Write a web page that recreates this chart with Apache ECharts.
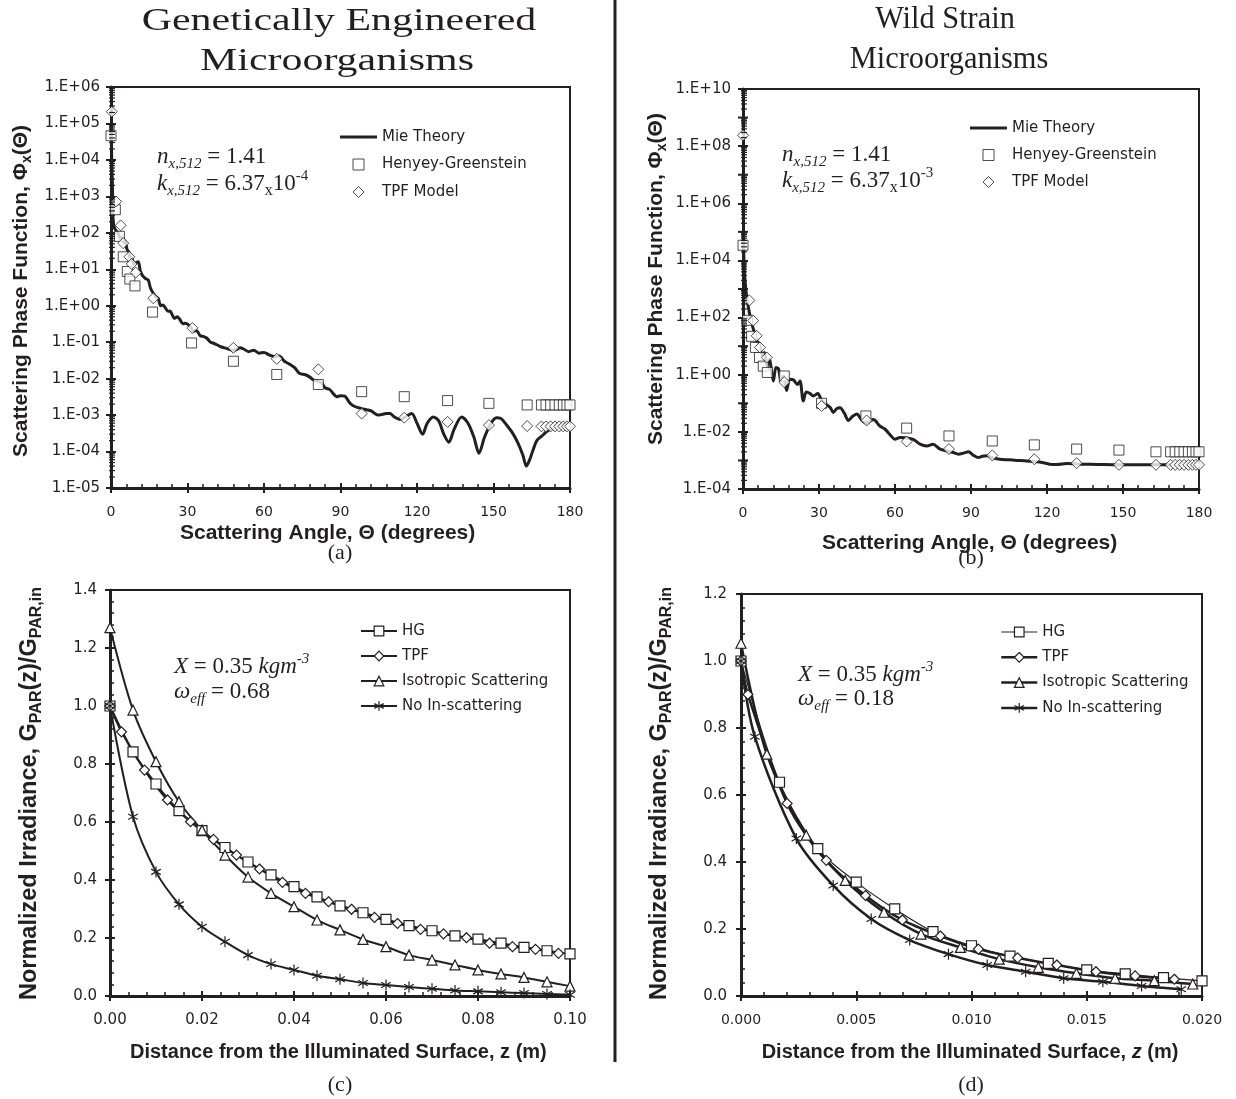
<!DOCTYPE html>
<html><head><meta charset="utf-8">
<script src="https://cdn.jsdelivr.net/npm/echarts@6/dist/echarts.min.js"></script>
<style>html,body{margin:0;padding:0;background:#fff}#c{width:1236px;height:1099px}</style>
</head><body><div id="c"></div>
<script>
// ---------------- DATA ----------------
// Panel (a): angle (deg), phase function
const mieA = [[0,1e5],[0.3,1e4],[0.6,1500],[0.9,190],[1.5,130],[2.2,110],[2.9,95],[3.6,70],[4.3,75],[5.0,55],[5.5,60],[6.3,35],[7.0,30],[7.4,22],[8.2,20],[9.0,14],[9.8,15],[10.7,16],[11.5,9],[12.2,7],[12.7,6.3],[13.6,5.5],[14.6,5.1],[15.5,3],[16.6,2.2],[17.6,1.8],[18.5,1.6],[19.5,1.0],[20.3,1.05],[21.2,0.9],[22.4,0.7],[23.2,0.72],[23.8,0.6],[25,0.45],[26,0.5],[27,0.42],[28.2,0.32],[29.2,0.33],[31,0.27],[32.5,0.2],[33.5,0.21],[35,0.15],[36.2,0.145],[37.5,0.13],[39,0.1],[40,0.095],[41.5,0.085],[43,0.075],[44.5,0.07],[46,0.065],[47.5,0.06],[49,0.062],[50.6,0.07],[52,0.065],[54,0.055],[56,0.06],[58,0.05],[60,0.052],[62,0.045],[64,0.04],[66,0.042],[68,0.03],[70,0.025],[72,0.02],[74,0.0138],[76,0.013],[78,0.011],[79.3,0.0093],[81,0.0085],[82.5,0.0078],[84,0.0056],[85.8,0.005],[87,0.004],[88.5,0.0032],[90,0.0034],[91.7,0.0033],[93.5,0.0022],[95,0.0018],[97,0.0016],[98.5,0.0015],[100.2,0.0014],[102,0.0013],[103.5,0.0011],[104.8,0.001],[106.5,0.00105],[108,0.0011],[109.4,0.0011],[111,0.0009],[113.3,0.00076],[115.5,0.0009],[117.9,0.0011],[120,0.0006],[122.2,0.0003],[124,0.0006],[126.4,0.00089],[128.5,0.0007],[130.5,0.0003],[132.5,0.00018],[134.5,0.0004],[137.5,0.00089],[140,0.0006],[142.3,0.00025],[144.3,0.00009],[146.5,0.00025],[149,0.0006],[151.2,0.00085],[153,0.0008],[155,0.00055],[157.5,0.00032],[159.6,0.00017],[161.5,0.00008],[162.9,0.00004],[164.2,0.00006],[165.5,0.00011],[167,0.0002],[168.8,0.00026],[171,0.00036],[173.4,0.00045],[176,0.0005],[178.6,0.00055],[180,0.00056]];
const hgA = [[0,4.6e4],[1.7,430],[3.3,80],[4.8,22],[6.4,8.7],[7.4,5.4],[9.4,3.5],[16.3,0.67],[31.6,0.095],[48,0.03],[65,0.013],[81.3,0.0069],[98.3,0.0044],[115,0.0032],[132,0.0025],[148.2,0.0021],[163.2,0.0019],[168.8,0.0019],[170.6,0.0019],[172.4,0.0019],[174.1,0.0019],[175.8,0.0019],[177.4,0.0019],[178.8,0.0019],[180,0.0019]];
const tpfA = [[0.3,2.1e5],[2,720],[3.8,160],[4.8,52],[7.2,22],[8.1,14],[9.7,8.1],[16.6,1.6],[31.9,0.245],[48,0.07],[65,0.035],[81.3,0.018],[98.3,0.0011],[115,0.00085],[132,0.00065],[148.2,0.00053],[163.2,0.0005],[168.8,0.00049],[170.6,0.00049],[172.4,0.00049],[174.1,0.00049],[175.8,0.00049],[177.4,0.00049],[178.8,0.00049],[180,0.00049]];
// Panel (b)
const mieB = [[0,1e5],[0.4,1e4],[0.8,2000],[1.5,500],[2.5,150],[3.5,60],[4.5,30],[5.5,15],[6.5,12],[7.5,5],[8.5,6],[9.5,2],[10.5,3.5],[11.3,1.2],[12,0.6],[13,1.8],[14,1.6],[15,0.6],[16,0.9],[17.2,0.28],[18.5,0.7],[20,0.65],[21.5,0.45],[22.5,0.6],[23.8,0.12],[25,0.25],[26.5,0.22],[27.7,0.18],[29.5,0.22],[31,0.13],[33,0.09],[34.5,0.07],[35.6,0.048],[37,0.065],[38.3,0.07],[40,0.045],[41.6,0.025],[43.3,0.035],[44.9,0.042],[47,0.025],[48.8,0.02],[50.2,0.024],[51.5,0.027],[54,0.016],[56,0.0126],[58,0.008],[60,0.0055],[62,0.0063],[64,0.0062],[67.2,0.0055],[69.9,0.0037],[72.5,0.0032],[75,0.0037],[77.8,0.0025],[81,0.0021],[83,0.0019],[85,0.00166],[87,0.0018],[89,0.002],[91,0.0015],[92.9,0.00126],[94.5,0.0014],[96.2,0.00145],[99,0.0012],[101.4,0.0011],[105,0.00105],[108,0.001],[111,0.00098],[114.6,0.00091],[118,0.00085],[121,0.00074],[124,0.00072],[127.8,0.00078],[131,0.00076],[134,0.00074],[140,0.00072],[150,0.0007],[160,0.0007],[170,0.0007],[180,0.0007]];
const hgB = [[0,3.4e4],[1.8,80],[3.4,22],[4.9,9],[6.5,4],[8,2],[9.6,1.2],[16.3,0.9],[31,0.1],[48.5,0.036],[64.6,0.0135],[81.3,0.0072],[98.4,0.0048],[115,0.0035],[131.7,0.0025],[148.4,0.0023],[163,0.002],[168.8,0.002],[170.6,0.002],[172.4,0.002],[174.1,0.002],[175.8,0.002],[177.4,0.002],[178.8,0.002],[180,0.002]];
const tpfB = [[0,2.4e8],[2.5,400],[4,78],[5.4,23],[6.7,9],[9.4,4],[16.3,0.55],[31,0.08],[48.8,0.025],[64.6,0.0046],[81.3,0.0025],[98.4,0.0015],[115,0.0011],[131.7,0.0008],[148.4,0.0007],[163,0.0007],[168.8,0.0007],[170.6,0.0007],[172.4,0.0007],[174.1,0.0007],[175.8,0.0007],[177.4,0.0007],[178.8,0.0007],[180,0.0007]];
// Panel (c): z (m), normalized irradiance
const hgC = [[0,1.0],[0.005,0.842],[0.01,0.731],[0.015,0.639],[0.02,0.57],[0.025,0.512],[0.03,0.462],[0.035,0.418],[0.04,0.377],[0.045,0.342],[0.05,0.311],[0.055,0.287],[0.06,0.264],[0.065,0.243],[0.07,0.225],[0.075,0.207],[0.08,0.196],[0.085,0.182],[0.09,0.168],[0.095,0.156],[0.1,0.145]];
const tpfC = [[0,1.0],[0.0025,0.911],[0.0075,0.779],[0.0125,0.676],[0.0175,0.601],[0.0225,0.54],[0.0275,0.486],[0.0325,0.438],[0.0375,0.392],[0.0425,0.354],[0.0475,0.325],[0.0525,0.299],[0.0575,0.271],[0.0625,0.25],[0.0675,0.23],[0.0725,0.214],[0.0775,0.201],[0.0825,0.182],[0.0875,0.17],[0.0925,0.161],[0.0975,0.147]];
const isoC = [[0,1.27],[0.005,0.986],[0.01,0.808],[0.015,0.67],[0.02,0.572],[0.025,0.486],[0.03,0.41],[0.035,0.354],[0.04,0.308],[0.045,0.262],[0.05,0.228],[0.055,0.195],[0.06,0.17],[0.065,0.141],[0.07,0.124],[0.075,0.107],[0.08,0.09],[0.085,0.076],[0.09,0.064],[0.095,0.049],[0.1,0.034]];
const noC = [[0,1.0],[0.005,0.618],[0.01,0.428],[0.015,0.316],[0.02,0.239],[0.025,0.187],[0.03,0.141],[0.035,0.11],[0.04,0.09],[0.045,0.07],[0.05,0.058],[0.055,0.045],[0.06,0.038],[0.065,0.031],[0.07,0.025],[0.075,0.019],[0.08,0.016],[0.085,0.013],[0.09,0.01],[0.095,0.007],[0.1,0.004]];
// Panel (d)
const hgD = [[0,1.0],[0.00167,0.638],[0.00333,0.44],[0.005,0.34],[0.00667,0.26],[0.00833,0.192],[0.01,0.15],[0.01167,0.119],[0.01333,0.0975],[0.015,0.078],[0.01667,0.066],[0.01833,0.055],[0.02,0.045]];
const tpfD = [[0,1.0],[0.0003,0.9],[0.002,0.575],[0.0037,0.405],[0.0054,0.3],[0.007,0.227],[0.00865,0.179],[0.0103,0.14],[0.012,0.114],[0.0137,0.0925],[0.0154,0.0725],[0.0171,0.06],[0.0188,0.05]];
const isoD = [[0,1.053],[0.00112,0.722],[0.00283,0.48],[0.00452,0.345],[0.0062,0.25],[0.00781,0.185],[0.00952,0.145],[0.0112,0.11],[0.0129,0.0857],[0.01455,0.0677],[0.01623,0.053],[0.01793,0.0457],[0.0196,0.0358]];
const noD = [[0,1.0],[0.0006,0.774],[0.0024,0.47],[0.004,0.33],[0.00565,0.23],[0.00732,0.167],[0.009,0.125],[0.01068,0.0925],[0.01235,0.0725],[0.014,0.053],[0.0157,0.0427],[0.01738,0.03],[0.0191,0.02]];
// tick labels
const phiLabelsA = ['1.E-05','1.E-04','1.E-03','1.E-02','1.E-01','1.E+00','1.E+01','1.E+02','1.E+03','1.E+04','1.E+05','1.E+06'];
const phiLabelsB = ['1.E-04','1.E-02','1.E+00','1.E+02','1.E+04','1.E+06','1.E+08','1.E+10'];

// ---------------- CHART ----------------
const C = '#231f20';
const FONT = 'DejaVu Sans', BOLD = 'Liberation Sans', SERIF = 'Liberation Serif';
const lg = d => d.map(p => [p[0], Math.log10(p[1])]);
const ASTER = 'path://M5,0L5,10M0.67,2.5L9.33,7.5M0.67,7.5L9.33,2.5';
const SQ = 'path://M0,0H10V10H0Z', DIA = 'path://M5,0L10,5L5,10L0,5Z', LINEICON = 'path://M0,0H40V3H0Z';

const grids = [
  {left:111, top:87, width:459, height:401},
  {left:743, top:89, width:456, height:400},
  {left:110, top:590, width:460, height:406},
  {left:741, top:594, width:461, height:402}
].map(g => Object.assign({show:true, borderColor:C, borderWidth:2, backgroundColor:'transparent'}, g));

function axis(dir, grid, min, max, interval, fmt, fs, margin, overlay, minor) {
  return {
    type:'value', gridIndex:grid, min, max, interval,
    position: dir === 'x' ? 'bottom' : 'left',
    splitLine:{show:false},
    axisLine:{show:!overlay, onZero:false, lineStyle:{color:C, width:3}},
    axisTick:{show:true, inside:!!overlay, length:5, lineStyle:{color:C, width:2}},
    minorTick:{show:!!(overlay && minor), splitNumber:5, length:4, lineStyle:{color:C, width:1.5}},
    minorSplitLine:{show:false},
    axisLabel:{show:!overlay, formatter:fmt, fontFamily:FONT, fontSize:fs, color:C, margin}
  };
}
const fInt = v => String(v);
const xAxes = [], yAxes = [];
// (a)
xAxes.push(axis('x',0,0,180,30,fInt,14,17,false), axis('x',0,0,180,30,fInt,14,17,true,true));
yAxes.push(axis('y',0,-5,6,1,v => phiLabelsA[Math.round(v)+5],15,11,false), axis('y',0,-5,6,1,null,15,11,true,false));
// (b)
xAxes.push(axis('x',1,0,180,30,fInt,14,17,false), axis('x',1,0,180,30,fInt,14,17,true,true));
yAxes.push(axis('y',1,-4,10,2,v => phiLabelsB[(Math.round(v)+4)/2],15,12,false), axis('y',1,-4,10,2,null,15,12,true,false));
// (c)
xAxes.push(axis('x',2,0,0.1,0.02,v => v.toFixed(2),15,17,false), axis('x',2,0,0.1,0.02,null,15,17,true,true));
yAxes.push(axis('y',2,0,1.4,0.2,v => v.toFixed(1),15,13,false), axis('y',2,0,1.4,0.2,null,15,13,true,true));
// (d)
xAxes.push(axis('x',3,0,0.02,0.005,v => v.toFixed(3),14,17,false), axis('x',3,0,0.02,0.005,null,14,17,true,true));
yAxes.push(axis('y',3,0,1.2,0.2,v => v.toFixed(1),15,14,false), axis('y',3,0,1.2,0.2,null,15,14,true,true));

// log minor ticks (decoration) via custom series on the axis scale
function logTicks(lo, hi, oddMajor) {
  const out = [];
  for (let n = lo; n < hi; n++) {
    for (let k = 2; k <= 9; k++) out.push([0, n + Math.log10(k), -2, 4, 1.2]);
    if (oddMajor && n > lo && ((n - lo) % 2 === 1)) out.push([0, n, -5, 5, 2]);
  }
  return out;
}
function tickSeries(ax, data) {
  return {type:'custom', xAxisIndex:ax, yAxisIndex:ax, silent:true, clip:false, z:6, data,
    renderItem:(params, api) => {
      const p = api.coord([api.value(0), api.value(1)]);
      return {type:'line', shape:{x1:p[0]+api.value(2), y1:p[1], x2:p[0]+api.value(3), y2:p[1]}, style:{stroke:C, lineWidth:api.value(4)}};
    }};
}
const open = {color:'#fff', borderColor:C, borderWidth:1};
function scat(name, ax, data, symbol, size) {
  return {type:'scatter', name, xAxisIndex:ax, yAxisIndex:ax, data, symbol, symbolSize:size, itemStyle:open, z:4};
}
function mie(ax, data) {
  return {type:'line', name:'Mie Theory', xAxisIndex:ax, yAxisIndex:ax, data, symbol:'none', smooth:0.3,
    lineStyle:{color:C, width:3}, z:3};
}
function lin(name, ax, data, symbol, size, w) {
  return {type:'line', name, xAxisIndex:ax, yAxisIndex:ax, data, symbol, symbolSize:size, symbolKeepAspect:true,
    showAllSymbol:true, smooth:0.3, lineStyle:{color:C, width:w}, itemStyle:{color:'#fff', borderColor:C, borderWidth:1.2}, z:3};
}
const series = [
  mie(0, lg(mieA)), scat('Henyey-Greenstein',0,lg(hgA),'rect',10), scat('TPF Model',0,lg(tpfA),'diamond',11),
  mie(2, lg(mieB)), scat('Henyey-Greenstein',2,lg(hgB),'rect',10), scat('TPF Model',2,lg(tpfB),'diamond',11),
  lin('HG',4,hgC,'rect',10,2), lin('TPF',4,tpfC,'diamond',10,2), lin('Isotropic Scattering',4,isoC,'triangle',10,2), lin('No In-scattering',4,noC,ASTER,11,2),
  lin('HG',6,hgD,'rect',10,1.2), lin('TPF',6,tpfD,'diamond',10,2.5), lin('Isotropic Scattering',6,isoD,'triangle',10,2.5), lin('No In-scattering',6,noD,ASTER,11,2.5),
  tickSeries(0, logTicks(-5, 6, false)), tickSeries(2, logTicks(-4, 10, true))
];

const lt = {fontFamily:FONT, fontSize:15, color:C};
function legendAB(left, top, gap) {
  return {left, top, padding:0, orient:'vertical', itemGap:gap, itemWidth:37, itemHeight:11, selectedMode:false, textStyle:lt,
    data:[
      {name:'Mie Theory', icon:LINEICON, itemStyle:{color:C, borderWidth:0}},
      {name:'Henyey-Greenstein', icon:SQ, itemStyle:{color:'#fff', borderColor:C, borderWidth:1}},
      {name:'TPF Model', icon:DIA, itemStyle:{color:'#fff', borderColor:C, borderWidth:1}}
    ]};
}
function legendCD(left, top, gap, hgW, w) {
  const it = {color:'#fff', borderColor:C, borderWidth:1.2};
  return {left, top, padding:0, orient:'vertical', itemGap:gap, itemWidth:36, itemHeight:12, selectedMode:false, textStyle:lt,
    data:[
      {name:'HG', itemStyle:it, lineStyle:{color:C, width:hgW}},
      {name:'TPF', itemStyle:it, lineStyle:{color:C, width:w}},
      {name:'Isotropic Scattering', itemStyle:it, lineStyle:{color:C, width:w}},
      {name:'No In-scattering', itemStyle:it, lineStyle:{color:C, width:w}}
    ]};
}
const legend = [legendAB(340,129.5,12.5), legendAB(970,120.5,12), legendCD(360,623.5,10,2,2), legendCD(1000,624.5,10.3,1.2,2.5)];

// annotation rich styles
const R = {
  r:{fontFamily:SERIF, fontSize:23, lineHeight:30, verticalAlign:'middle', fill:C, color:C},
  i:{fontFamily:SERIF, fontSize:23, fontStyle:'italic', lineHeight:30, verticalAlign:'middle', fill:C, color:C},
  sub:{fontFamily:SERIF, fontSize:15, fontStyle:'italic', lineHeight:15, verticalAlign:'bottom', fill:C, color:C},
  sup:{fontFamily:SERIF, fontSize:15, lineHeight:15, verticalAlign:'top', fill:C, color:C},
  isup:{fontFamily:SERIF, fontSize:15, fontStyle:'italic', lineHeight:15, verticalAlign:'top', fill:C, color:C},
  sm:{fontFamily:SERIF, fontSize:16, lineHeight:19, verticalAlign:'bottom', fill:C, color:C}
};
function rtext(text, x, y, opts) {
  opts = opts || {};
  const style = {text, fill:C, align:opts.align || 'left', verticalAlign:'middle',
    fontFamily:opts.fontFamily || SERIF, fontSize:opts.fontSize || 23, fontWeight:opts.fontWeight || 'normal', fontStyle:opts.fontStyle || 'normal'};
  if (!opts.plain) style.rich = opts.rich || R;
  return {type:'text', x, y, rotation:opts.rotation || 0, scaleX:opts.scaleX || 1, z:10, silent:true, style};
}
const B = (fs) => ({
  b:{fontFamily:BOLD, fontWeight:'bold', fontSize:fs, lineHeight:fs+6, verticalAlign:'middle', fill:C, color:C},
  bi:{fontFamily:BOLD, fontWeight:'bold', fontStyle:'italic', fontSize:fs, lineHeight:fs+6, verticalAlign:'middle', fill:C, color:C},
  bs:{fontFamily:BOLD, fontWeight:'bold', fontSize:Math.round(fs*0.68), lineHeight:Math.round(fs*0.68), verticalAlign:'bottom', fill:C, color:C}
});
const titleL = {align:'center', fontFamily:SERIF, fontSize:32, scaleX:1.31, plain:true};
const titleR = {align:'center', fontFamily:SERIF, fontSize:31, scaleX:0.98, plain:true};
const subOpt = {align:'center', fontSize:22, plain:true};
const graphic = [
  {type:'line', shape:{x1:615, y1:0, x2:615, y2:1062}, style:{stroke:C, lineWidth:3}, z:10, silent:true},
  rtext('Genetically Engineered', 339, 22, titleL),
  rtext('Microorganisms', 337, 62, titleL),
  rtext('Wild Strain', 945, 20, titleR),
  rtext('Microorganisms', 949, 60, titleR),
  rtext('(a)', 340, 553, subOpt),
  rtext('(b)', 971, 558, subOpt),
  rtext('(c)', 340, 1085, subOpt),
  rtext('(d)', 971, 1085, subOpt),
  // annotations
  rtext('{i|n}{sub|x,512}{r| = 1.41}', 157, 157),
  rtext('{i|k}{sub|x,512}{r| = 6.37}{sm|x}{r|10}{sup|-4}', 157, 184),
  rtext('{i|n}{sub|x,512}{r| = 1.41}', 782, 155),
  rtext('{i|k}{sub|x,512}{r| = 6.37}{sm|x}{r|10}{sup|-3}', 782, 181),
  rtext('{i|X}{r| = 0.35 }{i|kgm}{isup|-3}', 174, 667),
  rtext('{i|ω}{sub|eff}{r| = 0.68}', 174, 692),
  rtext('{i|X}{r| = 0.35 }{i|kgm}{isup|-3}', 798, 675),
  rtext('{i|ω}{sub|eff}{r| = 0.18}', 798, 699),
  // axis titles
  rtext('{b|Scattering Angle, Θ (degrees)}', 180, 533, {rich:B(21)}),
  rtext('{b|Scattering Angle, Θ (degrees)}', 822, 543, {rich:B(21)}),
  rtext('{b|Distance from the Illuminated Surface, z (m)}', 130, 1052, {rich:B(20)}),
  rtext('{b|Distance from the Illuminated Surface, }{bi|z}{b| (m)}', 970, 1052, {rich:B(20), align:'center'}),
  rtext('{b|Scattering Phase Function, Φ}{bs|x}{b|(Θ)}', 21, 125, {rich:B(21), align:'right', rotation:Math.PI/2}),
  rtext('{b|Scattering Phase Function, Φ}{bs|x}{b|(Θ)}', 656, 445, {rich:B(21), align:'left', rotation:Math.PI/2}),
  rtext('{b|Normalized Irradiance, G}{bs|PAR}{b|(z)/G}{bs|PAR,in}', 30, 1000, {rich:B(23.5), align:'left', rotation:Math.PI/2}),
  rtext('{b|Normalized Irradiance, G}{bs|PAR}{b|(z)/G}{bs|PAR,in}', 660, 1000, {rich:B(23.5), align:'left', rotation:Math.PI/2})
];

const chart = echarts.init(document.getElementById('c'), null, {renderer:'canvas'});
chart.setOption({animation:false, backgroundColor:'#fff', grid:grids, xAxis:xAxes, yAxis:yAxes, series, legend, graphic, tooltip:{show:false}});
</script>
</body></html>
